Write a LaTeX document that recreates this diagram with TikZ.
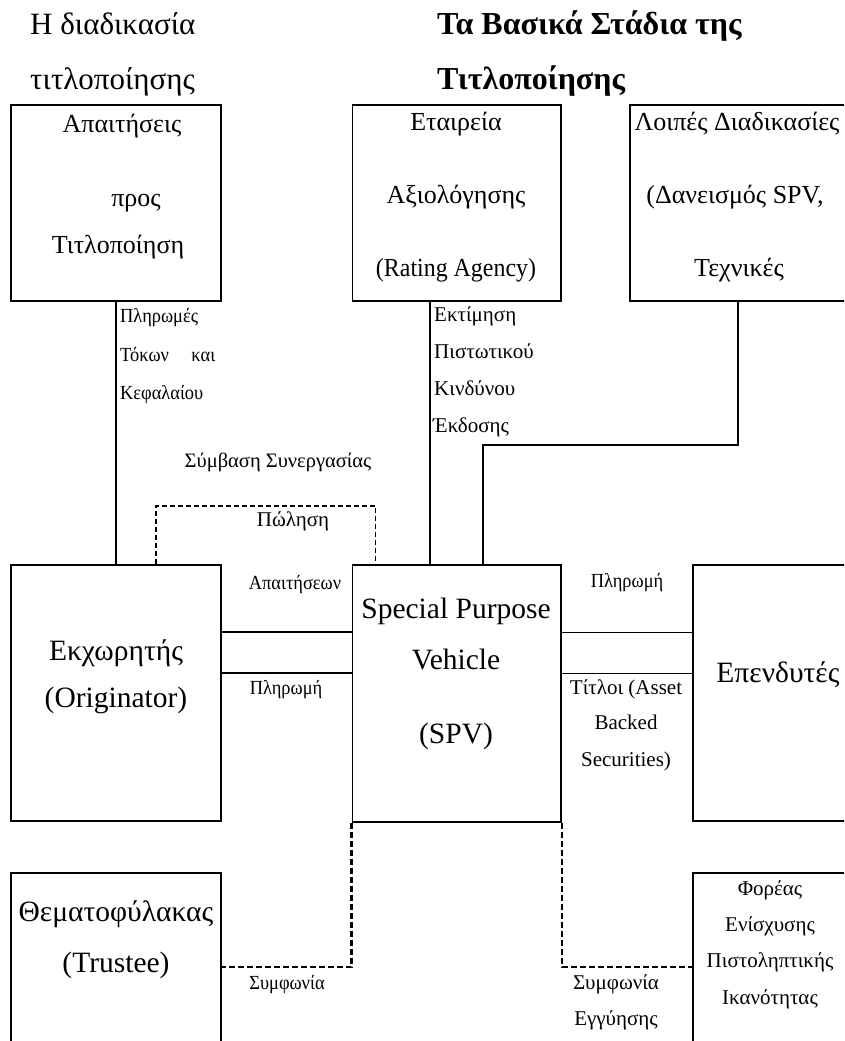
\documentclass[tikz,border=0pt]{standalone}
\usepackage{fontspec}
\setmainfont{Liberation Serif}
\newfontfamily\narrowgr[FakeStretch=0.92]{Liberation Serif}
\usepackage{tikz}
\usetikzlibrary{calc}

\begin{document}
\begin{tikzpicture}[x=1pt,y=-1pt,
box/.style={draw,line width=1.8pt,inner sep=0pt},
txt/.style={inner sep=0pt,anchor=base,font=\fontsize{29.5}{31}\selectfont},
stxt/.style={inner sep=0pt,anchor=base,font=\fontsize{26}{28}\selectfont},
ttl/.style={inner sep=0pt,anchor=base west,font=\fontsize{31}{33}\selectfont},
bttl/.style={inner sep=0pt,anchor=base west,font=\fontsize{32}{34}\selectfont\bfseries},
lab/.style={inner sep=0pt,anchor=base,font=\fontsize{21}{23}\selectfont},
nlab/.style={inner sep=0pt,anchor=base,font=\narrowgr\fontsize{20}{22}\selectfont},
link/.style={line width=1.8pt},
sale/.style={line width=1.5pt,dash pattern=on 5pt off 3pt},
agree/.style={line width=2.5pt,dash pattern=on 6pt off 3pt}]
\clip (0,0) rectangle (844,1041);
\node[ttl] (t1) at (30,35) {Η διαδικασία};
\node[ttl] (t2) at (30,89) {τιτλοποίησης};
\node[bttl] (t3) at (437,35) {Τα Βασικά Στάδια της};
\node[bttl] (t4) at (437,89) {Τιτλοποίησης};
\node[box,minimum width=210pt,minimum height=196pt] (req) at (116,203) {};
\node[box,minimum width=208.5pt,minimum height=196pt] (rating) at (456.75,203) {};
\node[box,minimum width=240pt,minimum height=196pt] (other) at (750,203) {};
\node[box,minimum width=210pt,minimum height=256pt] (orig) at (116,693) {};
\node[box,minimum width=208.5pt,minimum height=257pt] (spv) at (456.75,693.5) {};
\node[box,minimum width=177pt,minimum height=256pt] (inv) at (781.5,693) {};
\node[box,minimum width=210pt,minimum height=188pt] (trustee) at (116,967) {};
\node[box,minimum width=177pt,minimum height=188pt] (enh) at (781.5,967) {};
\node[stxt] (req1) at (122,132) {Απαιτήσεις};
\node[stxt] (req2) at (136,206) {προς};
\node[stxt] (req3) at (118,253) {Τιτλοποίηση};
\node[stxt] (rat1) at (456,130) {Εταιρεία};
\node[stxt] (rat2) at (456,203) {Αξιολόγησης};
\node[stxt,font=\narrowgr\fontsize{26}{28}\selectfont] (rat3) at (456,276) {(Rating Agency)};
\node[stxt] (oth1) at (737,130) {Λοιπές Διαδικασίες};
\node[stxt] (oth2) at (735,203) {(Δανεισμός SPV,};
\node[stxt] (oth3) at (739,276) {Τεχνικές};
\node[txt] (org1) at (116,660) {Εκχωρητής};
\node[txt] (org2) at (116,707) {(Originator)};
\node[txt] (spv1) at (456,618) {Special Purpose};
\node[txt] (spv2) at (456,669) {Vehicle};
\node[txt] (spv3) at (456,743) {(SPV)};
\node[txt] (inv1) at (778,682) {Επενδυτές};
\node[txt] (tru1) at (116,921) {Θεματοφύλακας};
\node[txt] (tru2) at (116,972) {(Trustee)};
\node[lab] (enh1) at (770,895) {Φορέας};
\node[lab] (enh2) at (770,931) {Ενίσχυσης};
\node[lab] (enh3) at (770,967) {Πιστοληπτικής};
\node[lab] (enh4) at (770,1004) {Ικανότητας};
\draw[link] (req.south) -- (req.south |- orig.north);
\draw[link] ([xshift=-27pt]rating.south) -- ([xshift=-27pt]rating.south |- spv.north);
\coordinate (bend) at (483,445);
\draw[link] ([xshift=-12pt]other.south) |- (bend) -- (bend |- spv.north);
\coordinate (sl) at (156,506);
\coordinate (sr) at (375.7,506);
\draw[sale] (sl |- orig.north) -- (sl) -- (sr) -- (sr |- spv.north);
\draw[link] ([yshift=61pt]orig.east) -- ([yshift=61pt]orig.east -| spv.west);
\draw[link] ([yshift=20pt]orig.east) -- ([yshift=20pt]orig.east -| spv.west);
\draw[link] ([yshift=61pt]spv.east) -- ([yshift=61pt]spv.east -| inv.west);
\draw[link] ([yshift=20pt]spv.east) -- ([yshift=20pt]spv.east -| inv.west);
\draw[agree] (spv.south west) |- (trustee.east);
\draw[agree] (spv.south east) |- (enh.west);
\node[nlab,anchor=base west] (pay1) at (120,322) {Πληρωμές};
\node[nlab,anchor=base west] (pay2) at (120,361) {\makebox[95pt][s]{Τόκων και}};
\node[nlab,anchor=base west] (pay3) at (120,399) {Κεφαλαίου};
\node[lab,anchor=base west] (est1) at (434,321) {Εκτίμηση};
\node[lab,anchor=base west] (est2) at (434,358) {Πιστωτικού};
\node[lab,anchor=base west] (est3) at (434,395) {Κινδύνου};
\node[lab,anchor=base west] (est4) at (433,432) {Έκδοσης};
\node[lab,font=\fontsize{20.5}{22}\selectfont] (coop) at (278,467) {Σύμβαση Συνεργασίας};
\node[lab] (sale1) at (293,526) {Πώληση};
\node[nlab] (sale2) at (295,589) {Απαιτήσεων};
\node[nlab] (pin) at (627,587) {Πληρωμή};
\node[nlab] (pout) at (286,694) {Πληρωμή};
\node[lab] (abs1) at (626,694) {Τίτλοι (Asset};
\node[lab] (abs2) at (626,729) {Backed};
\node[lab] (abs3) at (626,766) {Securities)};
\node[nlab] (agr1) at (287,989) {Συμφωνία};
\node[lab] (agr2) at (616,989) {Συμφωνία};
\node[lab] (agr3) at (616,1025) {Εγγύησης};
\end{tikzpicture}
\end{document}
